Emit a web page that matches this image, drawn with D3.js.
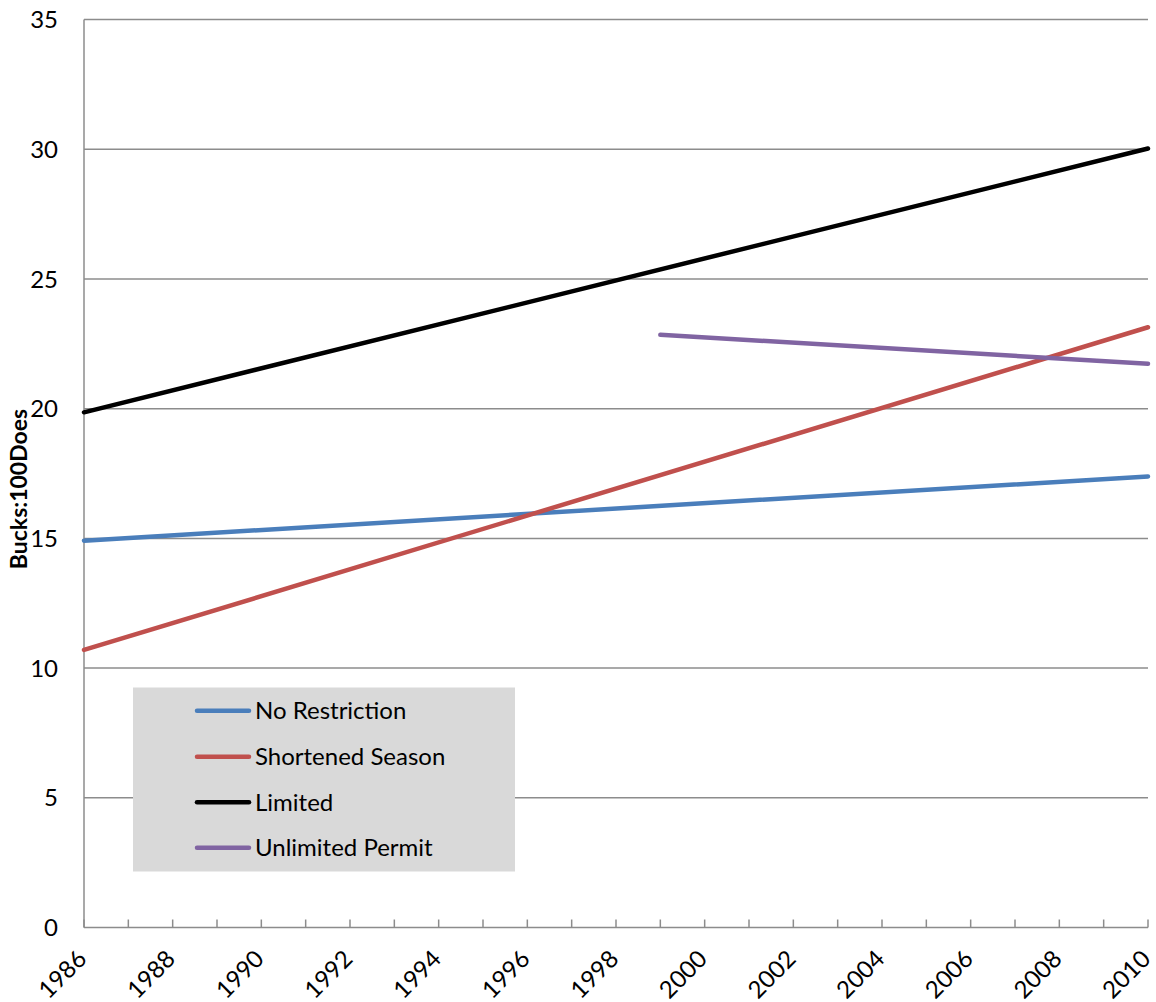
<!DOCTYPE html>
<html><head><meta charset="utf-8">
<script src="https://cdn.jsdelivr.net/npm/d3@7"></script>
<style>body{margin:0;background:#fff}svg{display:block}text{font-family:Lato,"Open Sans",sans-serif;fill:#000}</style>
</head><body><svg id="c" width="1156" height="1002"></svg>
<script>
const seriesNames = ["No Restriction","Shortened Season","Limited","Unlimited Permit"];
const seriesColors = ["#4a7ebb","#c0504d","#000000","#8064a2"];
const noRestriction = [[1986,14.91],[2010,17.39]];
const shortenedSeason = [[1986,10.70],[2010,23.14]];
const limited = [[1986,19.86],[2010,30.03]];
const unlimitedPermit = [[1999,22.85],[2010,21.73]];
const yTicks = [0,5,10,15,20,25,30,35];
const xTickYears = d3.range(1986,2011);
const xLabelYears = [1986,1988,1990,1992,1994,1996,1998,2000,2002,2004,2006,2008,2010];
const yTitle = "Bucks:100Does";

const svg = d3.select("#c");
const L=84, R=1148, T=19.6, B=927.5;
const x = d3.scaleLinear().domain([1986,2010]).range([L,R]);
const y = d3.scaleLinear().domain([0,35]).range([B,T]);
const grid="#8c8c8c";

svg.append("g").selectAll("line").data(yTicks.filter(d=>d>0)).join("line")
  .attr("x1",L).attr("x2",R).attr("y1",d=>y(d)).attr("y2",d=>y(d))
  .attr("stroke",grid).attr("stroke-width",1.5);
svg.append("g").selectAll("text").data(yTicks).join("text")
  .attr("x",58).attr("y",d=>y(d)).attr("dy","0.36em").attr("text-anchor","end")
  .style("font-size","24px").text(d=>d);
svg.append("line").attr("x1",L).attr("x2",L).attr("y1",T).attr("y2",B).attr("stroke",grid).attr("stroke-width",1.5);
svg.append("line").attr("x1",L).attr("x2",R).attr("y1",B).attr("y2",B).attr("stroke",grid).attr("stroke-width",1.5);
svg.append("g").selectAll("line").data(xTickYears).join("line")
  .attr("x1",d=>x(d)).attr("x2",d=>x(d)).attr("y1",B).attr("y2",B-8)
  .attr("stroke",grid).attr("stroke-width",1.5);
svg.append("g").selectAll("text").data(xLabelYears).join("text")
  .attr("text-anchor","end")
  .attr("transform",d=>`translate(${x(d)+4},${B+33}) rotate(-45)`)
  .style("font-size","24px").text(d=>d);
svg.append("text").attr("transform",`translate(27,489) rotate(-90)`)
  .attr("text-anchor","middle").style("font-size","23px").style("font-weight","bold").text(yTitle);

const all=[noRestriction,shortenedSeason,limited,unlimitedPermit];
const line=d3.line().x(d=>x(d[0])).y(d=>y(d[1]));
svg.append("g").selectAll("path").data(all).join("path")
  .attr("d",line).attr("fill","none").attr("stroke",(d,i)=>seriesColors[i])
  .attr("stroke-width",4.5).attr("stroke-linecap","round");

const lg=svg.append("g");
lg.append("rect").attr("x",133).attr("y",687.5).attr("width",382).attr("height",184).attr("fill","#d9d9d9");
const rows=[710.7,756.7,802.3,847.7];
seriesNames.forEach((n,i)=>{
  lg.append("line").attr("x1",197).attr("x2",249).attr("y1",rows[i]).attr("y2",rows[i])
    .attr("stroke",seriesColors[i]).attr("stroke-width",4.5).attr("stroke-linecap","round");
  lg.append("text").attr("x",255).attr("y",rows[i]).attr("dy","0.36em").style("font-size","24px").text(n);
});
</script></body></html>
